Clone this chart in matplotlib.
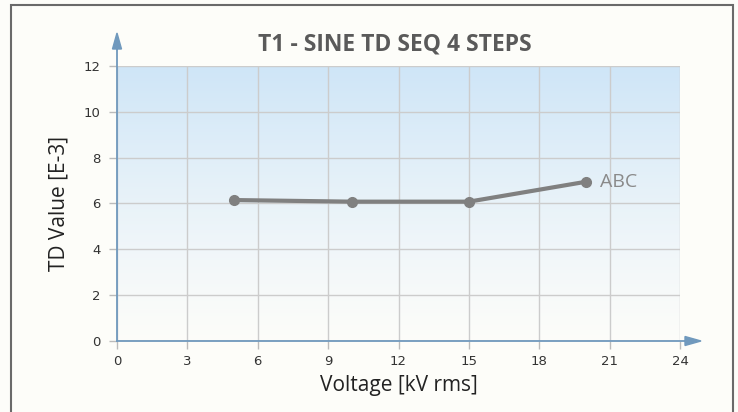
import numpy as np
import matplotlib
matplotlib.use("Agg")
import matplotlib.pyplot as plt
from matplotlib.patches import Rectangle, FancyArrow

voltage = [5, 10, 15, 20]
td_value = [6.15, 6.08, 6.08, 6.95]
series_name = "ABC"
x_ticks = [0, 3, 6, 9, 12, 15, 18, 21, 24]
y_ticks = [0, 2, 4, 6, 8, 10, 12]
title = "T1 - SINE TD SEQ 4 STEPS"
x_label = "Voltage [kV rms]"
y_label = "TD Value [E-3]"

W, H = 738, 412
fig = plt.figure(figsize=(W / 100, H / 100), dpi=100)
fig.patch.set_facecolor("#fdfdf9")

# outer frame (bottom edge runs past the canvas)
fig.add_artist(Rectangle((11 / W, -0.05), (733 - 11) / W, (H - 5) / H + 0.05,
                         transform=fig.transFigure, fill=False,
                         edgecolor="#6a6a6a", linewidth=1.5))

x0, x1, y0, y1 = 117, 680, 341, 66
ax = fig.add_axes([x0 / W, (H - y0) / H, (x1 - x0) / W, (y0 - y1) / H])

# vertical gradient background
grad = np.linspace(0, 1, 256).reshape(-1, 1)
top = np.array([0.81, 0.90, 0.97])
bot = np.array([0.99, 0.99, 0.98])
img = bot + (top - bot) * grad[..., None] ** 1.2
ax.imshow(img, extent=[0, 24, 0, 12], origin="lower", aspect="auto", zorder=0)

ax.set_xlim(0, 24)
ax.set_ylim(0, 12)
ax.set_xticks(x_ticks)
ax.set_yticks(y_ticks)
ax.grid(True, color="#cccccc", linewidth=1.0, zorder=1)
for s in ax.spines.values():
    s.set_visible(False)
ax.tick_params(axis="both", colors="#bbbbbb", labelcolor="#333333",
               labelsize=9.5, length=6, width=1)
ax.tick_params(axis="x", pad=4)
ax.tick_params(axis="y", pad=6)

ax.plot(voltage, td_value, color="#808080", linewidth=3, marker="o",
        markersize=7, zorder=4, solid_capstyle="round")
ax.annotate(series_name, xy=(voltage[-1], td_value[-1]), xytext=(10, 0),
            textcoords="offset points", va="center", ha="left",
            fontsize=14, color="#8a8a8a", family="Open Sans")

ax.set_xlabel(x_label, fontsize=15, color="#222222", family="Open Sans", labelpad=5)
ax.set_ylabel(y_label, fontsize=15, color="#222222", family="Open Sans", labelpad=10)

# axis lines with arrow heads
axis_col = "#7099bd"
fig.add_artist(plt.Line2D([x0 / W, 690 / W], [(H - y0) / H] * 2,
                          transform=fig.transFigure, color=axis_col, linewidth=1.3))
fig.add_artist(plt.Line2D([x0 / W] * 2, [(H - y0) / H, (H - 45) / H],
                          transform=fig.transFigure, color=axis_col, linewidth=1.3))
ax_fig = fig.add_axes([0, 0, 1, 1], facecolor="none")
ax_fig.set_xlim(0, W)
ax_fig.set_ylim(H, 0)
ax_fig.axis("off")
ax_fig.add_patch(FancyArrow(686, y0, 15, 0, width=0.01, head_width=9, head_length=16,
                            length_includes_head=True, color=axis_col))
ax_fig.add_patch(FancyArrow(x0, 50, 0, -17, width=0.01, head_width=9, head_length=16,
                            length_includes_head=True, color=axis_col))

fig.text(395 / W, (H - 44) / H, title, ha="center", va="center",
         fontsize=16.5, fontweight="bold", color="#5a5a5a", family="Open Sans",
         fontstretch="condensed")

fig.savefig("out.png", dpi=100, facecolor=fig.get_facecolor())
